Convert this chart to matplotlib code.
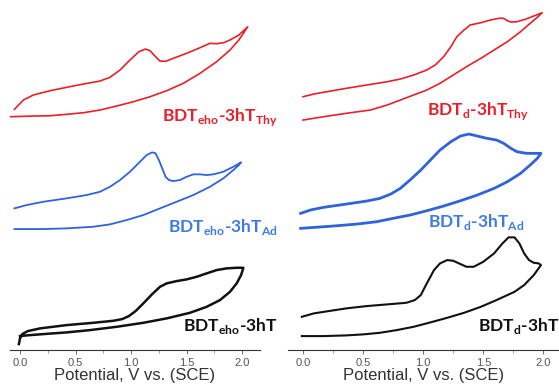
import matplotlib
matplotlib.use('Agg')
import matplotlib.pyplot as plt
from matplotlib.ticker import MultipleLocator

# --- data: potential (V vs SCE) and stacked current (a.u.) ---
# left panel: BDTeho-3hT series
eho_thy_v = [-0.05, 0.03, 0.12, 0.27, 0.42, 0.57, 0.72, 0.81, 0.90, 0.99, 1.07, 1.13, 1.17, 1.22,
             1.26, 1.31, 1.38, 1.50, 1.62, 1.71, 1.77, 1.83, 1.89, 1.97, 2.05,
             2.01, 1.97, 1.89, 1.77, 1.62, 1.47, 1.32, 1.17, 1.02, 0.87, 0.72, 0.57, 0.42, 0.27, 0.12, -0.09]
eho_thy_i = [240.7, 250, 255, 259.3, 262.7, 266, 269, 272.7, 280, 290, 298.3, 301, 299.3, 293.3,
             289, 288.7, 291.7, 296.7, 302.3, 306.7, 306.3, 307.3, 310, 315, 323.3,
             316.7, 310, 300, 288.3, 276.7, 266.7, 259.3, 253.3, 248.3, 244, 240, 237.3, 235.7, 234.3, 234, 233.3]

eho_ad_v = [-0.05, 0.06, 0.21, 0.42, 0.60, 0.72, 0.81, 0.90, 0.99, 1.08, 1.14, 1.19, 1.22, 1.25,
            1.28, 1.31, 1.34, 1.38, 1.44, 1.50, 1.56, 1.62, 1.68, 1.74, 1.83, 1.92, 1.99,
            1.97, 1.92, 1.83, 1.71, 1.56, 1.41, 1.26, 1.11, 0.96, 0.81, 0.66, 0.42, 0.21, -0.05]
eho_ad_i = [141.7, 145, 148.3, 151.7, 155, 158.3, 163.3, 170, 178.3, 188.3, 195, 197.7, 196.7, 190,
            181.7, 173.3, 170, 169, 170, 173.3, 175.7, 175.7, 175, 175.7, 178.3, 183.3, 187.7,
            185, 180, 171.7, 163.3, 155, 148.3, 141.7, 135, 130, 125.7, 123.3, 121.7, 121, 121]

eho_v = [-0.01, 0.00, 0.02, 0.07, 0.18, 0.42, 0.66, 0.84, 0.92, 0.98, 1.04, 1.11, 1.19, 1.26,
         1.32, 1.41, 1.50, 1.59, 1.68, 1.77, 1.86, 1.95, 2.01,
         1.99, 1.95, 1.89, 1.80, 1.68, 1.53, 1.32, 1.11, 0.87, 0.63, 0.42, 0.21, 0.06, 0.00]
eho_i = [6, 11.7, 16, 19, 21.7, 25, 27.3, 29.3, 31, 34, 39, 46.7, 56, 63.3,
         66.7, 69, 70.7, 73.3, 76.7, 80, 81.7, 82.3, 82.3,
         75, 66.7, 58.3, 50, 43.3, 37.3, 31.7, 27.3, 23.3, 20, 17.7, 16, 14.7, 14]

# right panel: BDTd-3hT series
d_thy_v = [0.00, 0.09, 0.23, 0.36, 0.53, 0.70, 0.81, 0.92, 1.03, 1.10, 1.17, 1.23, 1.28, 1.34,
           1.39, 1.48, 1.56, 1.63, 1.67, 1.70, 1.73, 1.78, 1.85, 1.92, 1.99,
           1.95, 1.89, 1.81, 1.70, 1.59, 1.48, 1.36, 1.25, 1.14, 1.03, 0.92, 0.81, 0.70, 0.56, 0.36, 0.17, 0.00]
d_thy_i = [253.3, 256, 259, 261.7, 265, 268.3, 271, 275, 280, 285, 293.3, 303.3, 313.3, 320,
           325, 327.3, 330, 331.7, 331.7, 329.3, 328, 328.3, 330.7, 334, 337.3,
           332.7, 326.7, 318.3, 308.3, 300, 291.7, 283.3, 275, 266.7, 260, 255, 250, 245, 240, 236.7, 233.3, 230]

d_ad_v = [-0.02, 0.06, 0.17, 0.36, 0.53, 0.64, 0.73, 0.81, 0.89, 0.98, 1.06, 1.14, 1.23, 1.31,
          1.38, 1.45, 1.53, 1.61, 1.67, 1.73, 1.78, 1.86, 1.92, 1.98,
          1.95, 1.89, 1.81, 1.70, 1.59, 1.45, 1.31, 1.17, 1.03, 0.89, 0.75, 0.61, 0.45, 0.25, -0.02]
d_ad_i = [136.7, 140, 142.7, 146, 149, 151.7, 156, 161.7, 170, 180, 190, 200, 208.3, 214,
          216, 214, 211.7, 210, 206.7, 201.7, 198.3, 196.7, 196.7, 196.7,
          191.7, 185, 176.7, 168.3, 161.7, 155, 149.3, 144, 139.3, 135, 131.7, 128.3, 126, 124, 121.7]

d_v = [-0.01, 0.09, 0.23, 0.36, 0.53, 0.70, 0.86, 0.93, 0.98, 1.03, 1.09, 1.14, 1.20, 1.25,
       1.31, 1.36, 1.42, 1.50, 1.59, 1.66, 1.71, 1.76, 1.80, 1.84, 1.88, 1.92, 1.96, 1.98,
       1.92, 1.84, 1.76, 1.61, 1.48, 1.34, 1.20, 1.06, 0.92, 0.78, 0.64, 0.50, 0.36, 0.17, -0.01]
d_i = [33.3, 36.7, 39.3, 41.7, 44, 45.7, 47.3, 50, 55, 66.7, 80, 86.7, 90, 89.3,
       86, 83.3, 83.3, 88.3, 96.7, 106.7, 112.7, 112.7, 106.7, 96.7, 90, 87.3, 86.7, 85,
       75, 65, 58.3, 50, 43.3, 37.3, 32.3, 27.7, 23.3, 20, 17.3, 15.7, 14.7, 14, 14]

RED = '#e8202a'
BLUE = '#2f63dc'
BLUE_TXT = '#3f7be3'
BLACK = '#111111'

plt.rcParams['mathtext.fontset'] = 'custom'
plt.rcParams['mathtext.rm'] = 'Lato'
plt.rcParams['mathtext.bf'] = 'Lato:bold'
plt.rcParams['lines.solid_joinstyle'] = 'round'

fig = plt.figure(figsize=(5.59, 3.89), dpi=100)
ax_l = fig.add_axes([10 / 559, 0.1, 250 / 559, 0.9])
ax_r = fig.add_axes([288 / 559, 0.1, 271 / 559, 0.9])

ax_l.plot(eho_thy_v, eho_thy_i, color=RED, lw=1.2)
ax_l.plot(eho_ad_v, eho_ad_i, color=BLUE, lw=1.3)
ax_l.plot(eho_v, eho_i, color=BLACK, lw=1.8)
ax_l.set_xlim(-0.09, 2.16)

ax_r.plot(d_thy_v, d_thy_i, color=RED, lw=1.2)
ax_r.plot(d_ad_v, d_ad_i, color=BLUE, lw=2.0)
ax_r.plot(d_v, d_i, color=BLACK, lw=1.5)
ax_r.set_xlim(-0.125, 2.13)

def lab(ax, x, y, s, c):
    ax.text(x, y, s, color=c, fontsize=12.5, fontweight='bold', family='Lato',
            ha='right', va='center', transform=ax.transAxes)

lab(ax_l, 1.07, 229 / 350 + 0.012, r'BDT$_{\mathbf{eho}}$-3hT$_{\mathbf{Thy}}$', RED)
lab(ax_l, 1.07, 121 / 350 + 0.005, r'BDT$_{\mathbf{eho}}$-3hT$_{\mathbf{Ad}}$', BLUE_TXT)
lab(ax_l, 1.07, 22 / 350 + 0.005, r'BDT$_{\mathbf{eho}}$-3hT', BLACK)
lab(ax_r, 0.89, 237 / 350 + 0.005, r'BDT$_{\mathbf{d}}$-3hT$_{\mathbf{Thy}}$', RED)
lab(ax_r, 0.87, 126 / 350 + 0.005, r'BDT$_{\mathbf{d}}$-3hT$_{\mathbf{Ad}}$', BLUE_TXT)
lab(ax_r, 1.0, 22 / 350 + 0.005, r'BDT$_{\mathbf{d}}$-3hT', BLACK)

for ax in (ax_l, ax_r):
    ax.set_ylim(0, 350)
    for s in ('top', 'right', 'left'):
        ax.spines[s].set_visible(False)
    ax.spines['bottom'].set_color('#333333')
    ax.spines['bottom'].set_linewidth(0.8)
    ax.set_yticks([])
    ax.xaxis.set_major_locator(MultipleLocator(0.5))
    ax.xaxis.set_minor_locator(MultipleLocator(0.25))
    ax.tick_params(axis='x', which='major', length=3, width=0.6, colors='#555555',
                   labelsize=8, pad=3)
    ax.tick_params(axis='x', which='minor', length=2, width=0.5, colors='#777777')
    ax.set_xticks([0, 0.5, 1.0, 1.5, 2.0])
    ax.set_xticklabels(['0.0', '0.5', '1.0', '1.5', '2.0'], family='Liberation Sans')
    ax.set_xlabel('Potential, V vs. (SCE)', family='Liberation Sans', fontsize=12,
                  color='#333333', labelpad=0)
    ax.patch.set_alpha(0)

fig.savefig('out.png', dpi=100)
